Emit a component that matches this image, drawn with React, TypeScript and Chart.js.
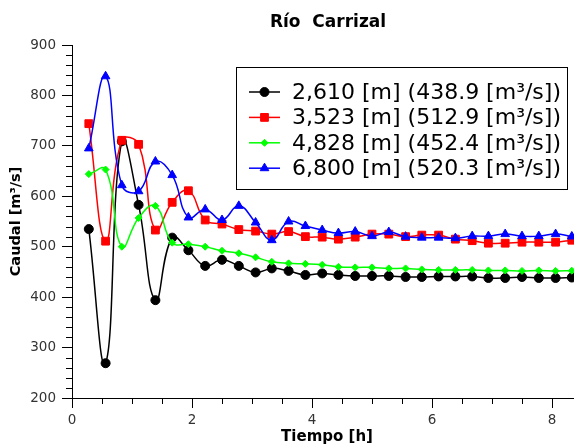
import React, { useEffect, useRef } from 'react';
import { Chart, registerables } from 'chart.js';

Chart.register(...registerables);

// ---- data ----
const TIME_H = [
  0.28, 0.56, 0.83, 1.11, 1.39, 1.67, 1.94, 2.22, 2.5, 2.78,
  3.06, 3.33, 3.61, 3.89, 4.17, 4.44, 4.72, 5.0, 5.28, 5.56,
  5.83, 6.11, 6.39, 6.67, 6.94, 7.22, 7.5, 7.78, 8.06, 8.33,
];

const Q_2610 = [
  535, 269, 709, 583, 394, 518, 493, 462, 474, 462,
  449, 457, 452, 444, 447, 444, 442, 442, 442, 440,
  440, 441, 441, 441, 438, 438, 440, 438, 438, 438.9,
];

const Q_3523 = [
  744, 511, 711, 703, 533, 588, 611, 553, 545, 534,
  531, 525, 530, 520, 519, 515, 519, 525, 525, 520,
  523, 523, 515, 512, 507, 507, 509, 509, 509, 512.9,
];

const Q_4828 = [
  644, 653, 500, 557, 581, 508, 505, 500, 492, 487,
  479, 470, 467, 466, 464, 460, 459, 459, 457, 457,
  455, 454, 454, 454, 453, 453, 452, 453, 452, 452.4,
];

const Q_6800 = [
  695, 838, 622, 610, 669, 642, 558, 574, 553, 581,
  548, 513, 550, 541, 533, 527, 530, 521, 529, 520,
  518, 518, 517, 521, 521, 525, 521, 521, 525, 520.3,
];

const SERIES_VALUES = [Q_2610, Q_3523, Q_4828, Q_6800];
const SERIES_LABELS = [
  '2,610 [m] (438.9 [m³/s])',
  '3,523 [m] (512.9 [m³/s])',
  '4,828 [m] (452.4 [m³/s])',
  '6,800 [m] (520.3 [m³/s])',
];
const SERIES_COLORS = ['#000000', '#ff0000', '#00ff00', '#0000ff'];
const POINT_STYLES = ['circle', 'rect', 'rectRot', 'triangle'];
const POINT_RADII = [4.5, 5.5, 3.5, 5];

const TITLE = 'Río  Carrizal';
const X_TITLE = 'Tiempo [h]';
const Y_TITLE = 'Caudal [m³/s]';

const FONT = '"DejaVu Sans", sans-serif';

function drawMarker(ctx: CanvasRenderingContext2D, style: string, x: number, y: number, r: number, color: string) {
  ctx.save();
  ctx.fillStyle = color;
  ctx.strokeStyle = color;
  ctx.lineWidth = 1;
  ctx.beginPath();
  if (style === 'circle') {
    ctx.arc(x, y, r, 0, Math.PI * 2);
  } else if (style === 'rect') {
    const s = Math.SQRT1_2 * r;
    ctx.rect(x - s, y - s, 2 * s, 2 * s);
  } else if (style === 'rectRot') {
    ctx.moveTo(x - r, y);
    ctx.lineTo(x, y - r);
    ctx.lineTo(x + r, y);
    ctx.lineTo(x, y + r);
    ctx.closePath();
  } else if (style === 'triangle') {
    let a = 0;
    ctx.moveTo(x + Math.sin(a) * r, y - Math.cos(a) * r);
    a += (2 * Math.PI) / 3;
    ctx.lineTo(x + Math.sin(a) * r, y - Math.cos(a) * r);
    a += (2 * Math.PI) / 3;
    ctx.lineTo(x + Math.sin(a) * r, y - Math.cos(a) * r);
    ctx.closePath();
  }
  ctx.fill();
  ctx.stroke();
  ctx.restore();
}

const boxLegend = {
  id: 'boxLegend',
  afterDraw(chart: any) {
    const ctx: CanvasRenderingContext2D = chart.ctx;
    const x0 = 236.5, y0 = 67.5, w = 331, h = 122;
    ctx.save();
    ctx.fillStyle = '#ffffff';
    ctx.fillRect(x0, y0, w, h);
    ctx.strokeStyle = '#000000';
    ctx.lineWidth = 1;
    ctx.strokeRect(x0, y0, w, h);
    chart.data.datasets.forEach((ds: any, i: number) => {
      const cy = 92 + i * 25.4;
      ctx.strokeStyle = ds.borderColor;
      ctx.lineWidth = 1.5;
      ctx.beginPath();
      ctx.moveTo(249, cy);
      ctx.lineTo(280, cy);
      ctx.stroke();
      drawMarker(ctx, ds.pointStyle, 264.5, cy, ds.pointRadius, ds.borderColor);
      ctx.fillStyle = '#000000';
      ctx.font = `22px ${FONT}`;
      ctx.textBaseline = 'middle';
      ctx.textAlign = 'left';
      ctx.fillText(ds.label, 292, cy + 1);
    });
    ctx.restore();
  },
};

const minorTicks = {
  id: 'minorTicks',
  afterDraw(chart: any) {
    const ctx: CanvasRenderingContext2D = chart.ctx;
    const xs = chart.scales.x;
    const ys = chart.scales.y;
    const area = chart.chartArea;
    ctx.save();
    ctx.strokeStyle = '#000000';
    ctx.lineWidth = 1;
    ctx.beginPath();
    for (let v = 200; v <= 900; v += 20) {
      if (v % 100 === 0) continue;
      const py = Math.round(ys.getPixelForValue(v)) + 0.5;
      ctx.moveTo(area.left - 6, py);
      ctx.lineTo(area.left, py);
    }
    for (let k = 0; k <= 17; k++) {
      const v = k * 0.5;
      if (k % 4 === 0) continue;
      const px = Math.round(xs.getPixelForValue(v)) + 0.5;
      ctx.moveTo(px, area.bottom);
      ctx.lineTo(px, area.bottom + 6);
    }
    ctx.stroke();
    ctx.restore();
  },
};

export default function App() {
  const ref = useRef<HTMLCanvasElement>(null);

  useEffect(() => {
    if (!ref.current) return;
    Chart.defaults.font.family = FONT;
    const datasets = SERIES_VALUES.map((vals, i) => ({
      label: SERIES_LABELS[i],
      data: TIME_H.map((t, j) => ({ x: t, y: vals[j] })),
      xAxisID: 'x',
      yAxisID: 'y',
      borderColor: SERIES_COLORS[i],
      backgroundColor: SERIES_COLORS[i],
      pointBackgroundColor: SERIES_COLORS[i],
      pointBorderColor: SERIES_COLORS[i],
      pointStyle: POINT_STYLES[i],
      pointRadius: POINT_RADII[i],
      pointBorderWidth: 1,
      borderWidth: 1.5,
      tension: 0.45,
      fill: false,
      order: 4 - i,
    }));

    const chart = new Chart(ref.current, {
      type: 'line',
      data: { datasets } as any,
      plugins: [minorTicks, boxLegend],
      options: {
        animation: false,
        responsive: false,
        devicePixelRatio: 1,
        layout: { padding: 0 },
        plugins: {
          legend: { display: false },
          tooltip: { enabled: false },
          title: {
            display: true,
            text: TITLE,
            color: '#000000',
            font: { size: 17, weight: 'bold', family: FONT },
            padding: { top: 12, bottom: 12.6 },
          },
        },
        scales: {
          x: {
            type: 'linear',
            min: 0,
            max: 8.5,
            afterFit: (s: any) => { s.height = 48; },
            grid: { drawOnChartArea: false, drawTicks: true, tickLength: 10, tickColor: '#000000', tickWidth: 1 },
            border: { display: true, color: '#000000', width: 1 },
            ticks: { stepSize: 2, includeBounds: false, color: '#333333', font: { size: 13.5, family: FONT }, padding: 4, maxRotation: 0 },
            title: { display: true, text: X_TITLE, color: '#000000', font: { size: 15, weight: 'bold', family: FONT }, padding: { top: 0, bottom: 0 } },
          },
          y: {
            type: 'linear',
            position: 'left',
            min: 200,
            max: 900,
            afterFit: (s: any) => { s.width = 72; },
            grid: { drawOnChartArea: false, drawTicks: true, tickLength: 10, tickColor: '#000000', tickWidth: 1 },
            border: { display: true, color: '#000000', width: 1 },
            ticks: { stepSize: 100, color: '#333333', font: { size: 13.5, family: FONT }, padding: 6 },
            title: { display: true, text: Y_TITLE, color: '#000000', font: { size: 14.5, weight: 'bold', family: FONT }, padding: { top: 8, bottom: 0 } },
          },
          yRightSpace: {
            type: 'linear',
            position: 'right',
            display: true,
            min: 200,
            max: 900,
            afterFit: (s: any) => { s.width = 74; },
            grid: { display: false, drawTicks: false },
            border: { display: false },
            ticks: { display: false },
            title: { display: false },
          },
        },
      } as any,
    });
    return () => chart.destroy();
  }, []);

  return (
    <div style={{ position: 'fixed', left: 0, top: 0, width: 574, height: 446, overflow: 'hidden', background: '#ffffff' }}>
      <canvas ref={ref} width={656} height={446} style={{ display: 'block', width: 656, height: 446 }} />
    </div>
  );
}
